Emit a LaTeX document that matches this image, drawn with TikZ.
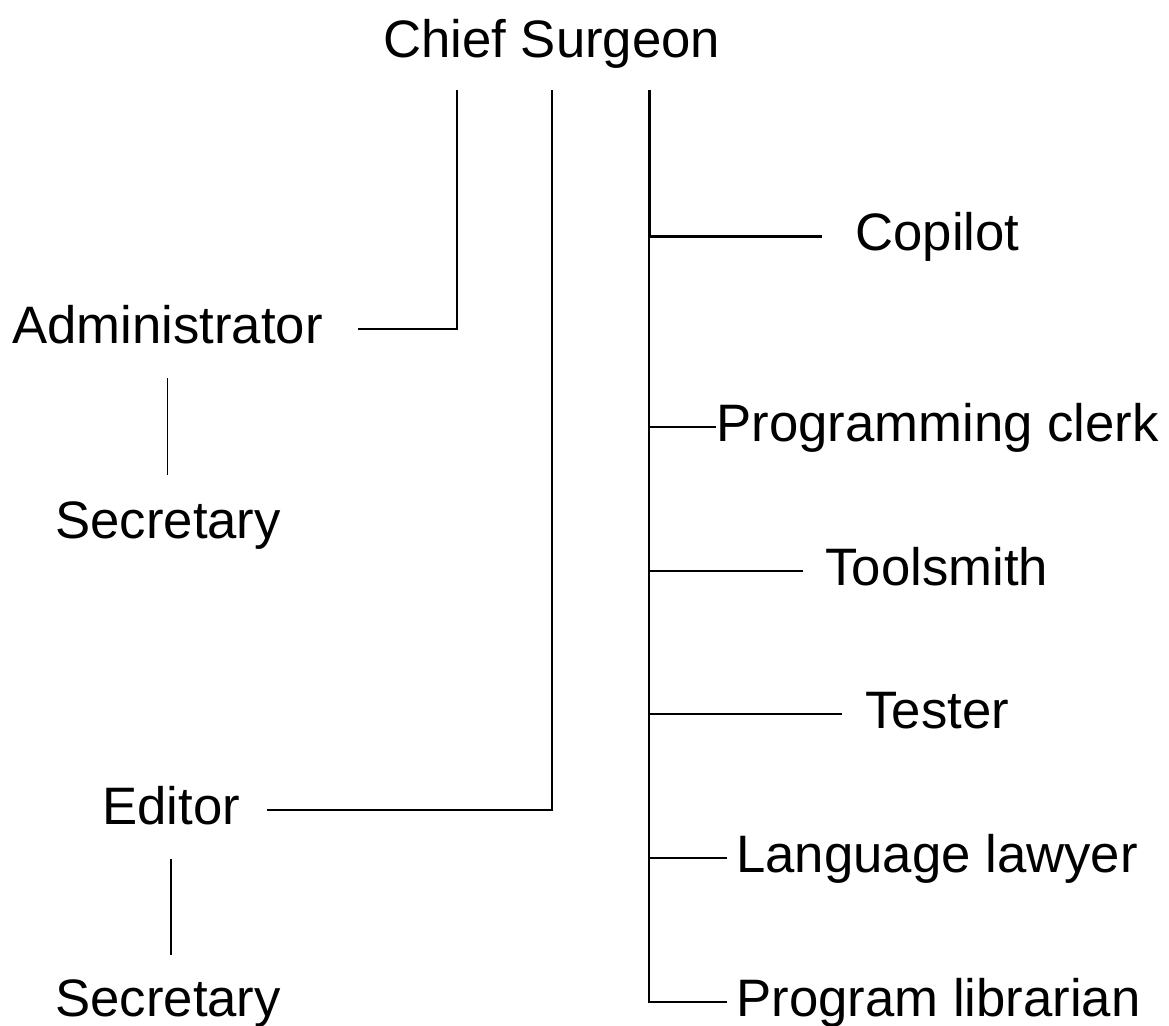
\documentclass[tikz,border=0pt]{standalone}
\usepackage{fontspec}
\setmainfont{Liberation Sans}
\usetikzlibrary{positioning}

\begin{document}
\begin{tikzpicture}[
        x=0.02cm, y=-0.02cm,
        role/.style={inner sep=0pt, anchor=base west, text height=0.56cm, text depth=0pt,
                     font=\fontsize{30}{36}\selectfont},
        lnk/.style={line width=0.85pt},
        bold/.style={line width=1.7pt}
      ]
        \useasboundingbox (0,0) rectangle (1169,1025);
        % chief and the three lines hanging from him
        \node[role] (chief) at (383,57) {Chief Surgeon};
        \coordinate (topA) at (457,90);
        \coordinate (topE) at (552,90);
        \coordinate (topC) at (649,90);
        % left column
        \node[role] (admin)  at (12,343)  {Administrator};
        \node[role] (secA)   at (55,538)  {Secretary};
        \node[role] (editor) at (102,824) {Editor};
        \node[role] (secE)   at (55,1016) {Secretary};
        % right column
        \node[role] (copilot) at (855,250)  {Copilot};
        \node[role] (clerk)   at (716,441)  {Programming clerk};
        \node[role] (tools)   at (825,585)  {Toolsmith};
        \node[role] (tester)  at (865,728)  {Tester};
        \node[role] (lawyer)  at (736,872)  {Language lawyer};
        \node[role] (libr)    at (736,1016) {Program librarian};
        \draw[lnk, shorten >=0.7cm]  (topA) |- (admin.east);
        \draw[lnk, shorten >=0.54cm] (topE) |- (editor.east);
        \draw[lnk, shorten <=0.7cm, shorten >=0.7cm] (admin.south) -- (admin.south |- secA.north);
        \draw[lnk, shorten <=0.7cm, shorten >=0.66cm] (editor.south) -- (editor.south |- secE.north);
        \draw[lnk, shorten >=0.18cm] (topC) |- (libr.west);
        \draw[bold, shorten >=0.66cm] (topC) |- (copilot.west);
        \draw[lnk] (topC |- clerk.west) -- (clerk.west);
        \draw[lnk, shorten >=0.44cm] (topC |- tools.west) -- (tools.west);
        \draw[lnk, shorten >=0.46cm] (topC |- tester.west) -- (tester.west);
        \draw[lnk, shorten >=0.18cm] (topC |- lawyer.west) -- (lawyer.west);
      \end{tikzpicture}
\end{document}
